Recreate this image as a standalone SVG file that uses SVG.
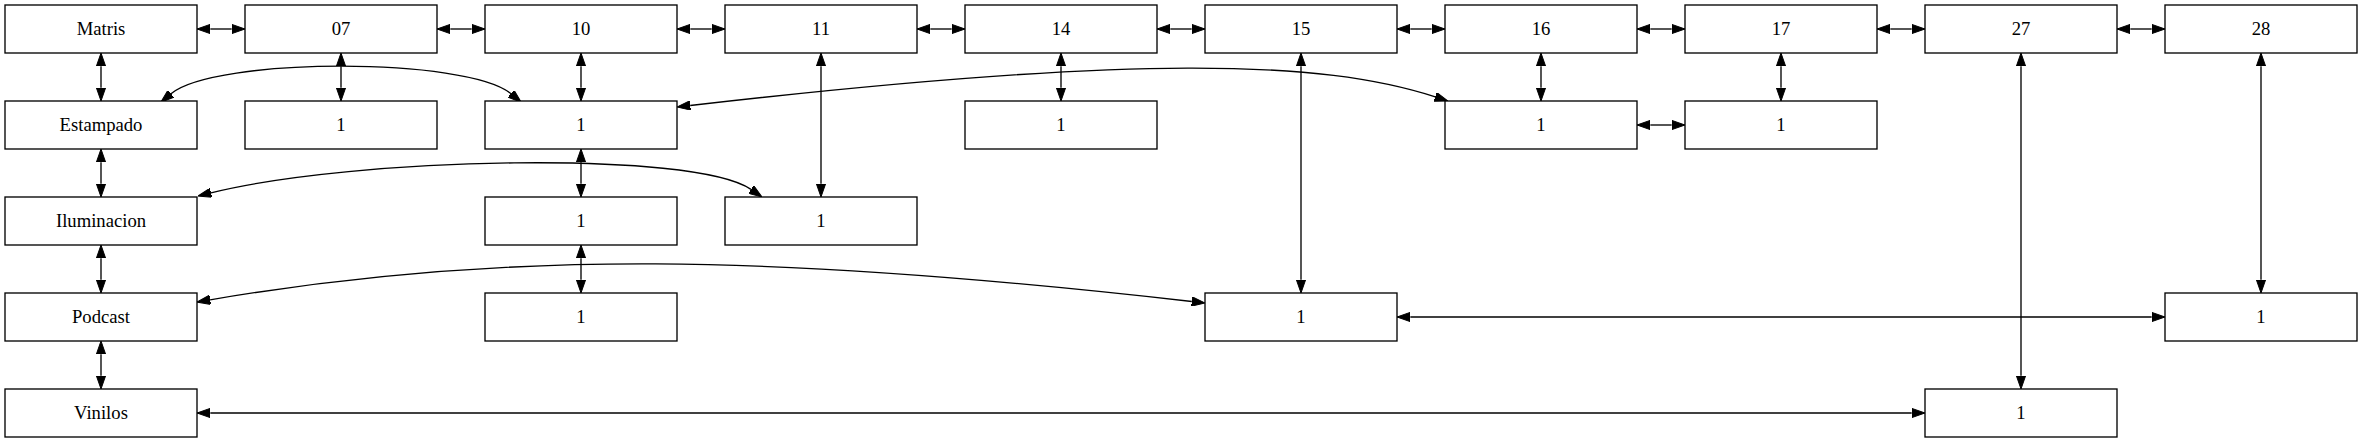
<svg xmlns="http://www.w3.org/2000/svg" width="2363" height="443" viewBox="0 0 2363 443">
<style>
.node rect{fill:#fff;stroke:#000;stroke-width:1.33}
.node text{font-family:"Liberation Serif","Times New Roman",serif;font-size:18.67px;text-anchor:middle;fill:#000}
.edges line,.edges path{fill:none;stroke:#000;stroke-width:1.33;marker-start:url(#ah);marker-end:url(#ah)}
</style>
<defs>
<marker id="ah" viewBox="0 0 10 7" refX="0" refY="3.5" markerWidth="13.33" markerHeight="9.33" markerUnits="userSpaceOnUse" orient="auto-start-reverse">
<path d="M0,0 L10,3.5 L0,7 z" fill="#000" stroke="#000" stroke-width="0.75"/>
</marker>
</defs>
<rect width="2363" height="443" fill="#fff"/>
<g class="edges">
<line x1="210.33" y1="29" x2="231.67" y2="29"/>
<line x1="450.33" y1="29" x2="471.67" y2="29"/>
<line x1="690.33" y1="29" x2="711.67" y2="29"/>
<line x1="930.33" y1="29" x2="951.67" y2="29"/>
<line x1="1170.33" y1="29" x2="1191.67" y2="29"/>
<line x1="1410.33" y1="29" x2="1431.67" y2="29"/>
<line x1="1650.33" y1="29" x2="1671.67" y2="29"/>
<line x1="1890.33" y1="29" x2="1911.67" y2="29"/>
<line x1="2130.33" y1="29" x2="2151.67" y2="29"/>
<line x1="1650.33" y1="125" x2="1671.67" y2="125"/>
<line x1="101" y1="66.33" x2="101" y2="87.67"/>
<line x1="101" y1="162.33" x2="101" y2="183.67"/>
<line x1="101" y1="258.33" x2="101" y2="279.67"/>
<line x1="101" y1="354.33" x2="101" y2="375.67"/>
<line x1="341" y1="66.33" x2="341" y2="87.67"/>
<line x1="581" y1="66.33" x2="581" y2="87.67"/>
<line x1="581" y1="162.33" x2="581" y2="183.67"/>
<line x1="581" y1="258.33" x2="581" y2="279.67"/>
<line x1="821" y1="66.33" x2="821" y2="183.67"/>
<line x1="1061" y1="66.33" x2="1061" y2="87.67"/>
<line x1="1301" y1="66.33" x2="1301" y2="279.67"/>
<line x1="1541" y1="66.33" x2="1541" y2="87.67"/>
<line x1="1781" y1="66.33" x2="1781" y2="87.67"/>
<line x1="2021" y1="66.33" x2="2021" y2="375.67"/>
<line x1="2261" y1="66.33" x2="2261" y2="279.67"/>
<line x1="1410.33" y1="317" x2="2151.67" y2="317"/>
<line x1="210.33" y1="413" x2="1911.67" y2="413"/>
<path d="M171,93.7 C215,57 467,57 511,93.7"/>
<path d="M211,192.8 C356,157 694,150 751,189.4"/>
<path d="M690.2,105.5 C1137,54 1321,60 1435.3,96.9"/>
<path d="M210.1,299.8 C506,249.4 774.5,254 1191.8,301.5"/>
</g>
<g id="n_matris" class="node"><rect x="5" y="5" width="192" height="48"/><text x="101" y="35">Matris</text></g>
<g id="n_07" class="node"><rect x="245" y="5" width="192" height="48"/><text x="341" y="35">07</text></g>
<g id="n_10" class="node"><rect x="485" y="5" width="192" height="48"/><text x="581" y="35">10</text></g>
<g id="n_11" class="node"><rect x="725" y="5" width="192" height="48"/><text x="821" y="35">11</text></g>
<g id="n_14" class="node"><rect x="965" y="5" width="192" height="48"/><text x="1061" y="35">14</text></g>
<g id="n_15" class="node"><rect x="1205" y="5" width="192" height="48"/><text x="1301" y="35">15</text></g>
<g id="n_16" class="node"><rect x="1445" y="5" width="192" height="48"/><text x="1541" y="35">16</text></g>
<g id="n_17" class="node"><rect x="1685" y="5" width="192" height="48"/><text x="1781" y="35">17</text></g>
<g id="n_27" class="node"><rect x="1925" y="5" width="192" height="48"/><text x="2021" y="35">27</text></g>
<g id="n_28" class="node"><rect x="2165" y="5" width="192" height="48"/><text x="2261" y="35">28</text></g>
<g id="n_estampado" class="node"><rect x="5" y="101" width="192" height="48"/><text x="101" y="131">Estampado</text></g>
<g id="n_07_1" class="node"><rect x="245" y="101" width="192" height="48"/><text x="341" y="131">1</text></g>
<g id="n_10_1" class="node"><rect x="485" y="101" width="192" height="48"/><text x="581" y="131">1</text></g>
<g id="n_14_1" class="node"><rect x="965" y="101" width="192" height="48"/><text x="1061" y="131">1</text></g>
<g id="n_16_1" class="node"><rect x="1445" y="101" width="192" height="48"/><text x="1541" y="131">1</text></g>
<g id="n_17_1" class="node"><rect x="1685" y="101" width="192" height="48"/><text x="1781" y="131">1</text></g>
<g id="n_iluminacion" class="node"><rect x="5" y="197" width="192" height="48"/><text x="101" y="227">Iluminacion</text></g>
<g id="n_10_2" class="node"><rect x="485" y="197" width="192" height="48"/><text x="581" y="227">1</text></g>
<g id="n_11_1" class="node"><rect x="725" y="197" width="192" height="48"/><text x="821" y="227">1</text></g>
<g id="n_podcast" class="node"><rect x="5" y="293" width="192" height="48"/><text x="101" y="323">Podcast</text></g>
<g id="n_10_3" class="node"><rect x="485" y="293" width="192" height="48"/><text x="581" y="323">1</text></g>
<g id="n_15_1" class="node"><rect x="1205" y="293" width="192" height="48"/><text x="1301" y="323">1</text></g>
<g id="n_28_1" class="node"><rect x="2165" y="293" width="192" height="48"/><text x="2261" y="323">1</text></g>
<g id="n_vinilos" class="node"><rect x="5" y="389" width="192" height="48"/><text x="101" y="419">Vinilos</text></g>
<g id="n_27_1" class="node"><rect x="1925" y="389" width="192" height="48"/><text x="2021" y="419">1</text></g>
</svg>
